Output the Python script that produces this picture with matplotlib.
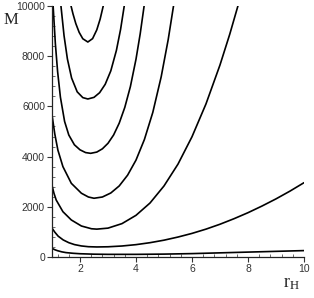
import matplotlib
matplotlib.use("Agg")
import matplotlib.pyplot as plt
from matplotlib.ticker import MultipleLocator, FixedLocator

# Data (r_H, M), one list pair per curve
c_r = [1.68, 1.75, 1.85, 1.97, 2.10, 2.28, 2.45, 2.60, 2.72, 2.83]
c_m = [10000, 9685, 9300, 8950, 8695, 8565, 8700, 9050, 9480, 10000]

b_r = [1.32, 1.43, 1.55, 1.70, 1.90, 2.10, 2.28, 2.50, 2.70, 2.90, 3.10, 3.30, 3.45, 3.58]
b_m = [10000, 8820, 7890, 7130, 6580, 6350, 6295, 6360, 6545, 6880, 7415, 8230, 9070, 10000]

a_r = [1.04, 1.12, 1.20, 1.30, 1.45, 1.60, 1.80, 2.00, 2.20, 2.38, 2.60, 2.80, 3.00,
       3.20, 3.40, 3.60, 3.80, 4.00, 4.15, 4.29]
a_m = [10000, 8500, 7390, 6370, 5400, 4860, 4470, 4270, 4160, 4130, 4180, 4310, 4530,
       4860, 5330, 5960, 6790, 7880, 8890, 10000]

d_r = [1.00, 1.10, 1.21, 1.39, 1.69, 2.05, 2.30, 2.50, 2.80, 3.10, 3.40, 3.70, 4.00,
       4.30, 4.60, 4.90, 5.15, 5.34]
d_m = [5660, 4900, 4260, 3600, 2935, 2540, 2390, 2340, 2390, 2550, 2830, 3260, 3860,
       4680, 5760, 7180, 8660, 10000]

e_r = [1.00, 1.07, 1.15, 1.39, 1.69, 2.05, 2.41, 2.60, 3.00, 3.50, 4.00, 4.50, 5.00,
       5.50, 6.00, 6.50, 7.00, 7.35, 7.64]
e_m = [2850, 2540, 2270, 1805, 1475, 1235, 1125, 1110, 1150, 1330, 1660, 2150, 2830,
       3700, 4790, 6100, 7650, 8880, 10000]

f_r = [1.00, 1.10, 1.22, 1.40, 1.60, 1.80, 2.05, 2.30, 2.60, 3.00, 3.50, 4.00, 4.50,
       5.00, 5.50, 6.00, 6.50, 7.00, 7.50, 8.00, 8.50, 9.00, 9.50, 10.0]
f_m = [1150, 990, 830, 680, 570, 495, 440, 410, 400, 407, 438, 492, 570,
       670, 795, 940, 1110, 1305, 1525, 1765, 2030, 2315, 2625, 2960]

g_r = [1.00, 1.10, 1.20, 1.35, 1.50, 1.75, 2.00, 2.50, 3.00, 4.00, 5.00, 6.00, 7.00,
       8.00, 9.00, 10.0]
g_m = [345, 290, 250, 205, 175, 148, 130, 112, 105, 105, 115, 135, 165, 195, 225, 255]

curves = [(c_r, c_m), (b_r, b_m), (a_r, a_m), (d_r, d_m), (e_r, e_m), (f_r, f_m), (g_r, g_m)]

x_ticks = [2, 4, 6, 8, 10]
y_ticks = [0, 2000, 4000, 6000, 8000, 10000]

fig = plt.figure(figsize=(3.14, 2.98), dpi=100)
ax = fig.add_axes([0.1656, 0.1376, 0.8025, 0.8423])

for r, m in curves:
    ax.plot(r, m, color="black", lw=1.2, solid_joinstyle="round", solid_capstyle="round")

ax.set_xlim(1, 10)
ax.set_ylim(0, 10000)
ax.spines["top"].set_visible(False)
ax.spines["right"].set_visible(False)
for s in ("left", "bottom"):
    ax.spines[s].set_linewidth(0.9)
    ax.spines[s].set_color("#222222")

ax.xaxis.set_major_locator(FixedLocator(x_ticks))
ax.yaxis.set_major_locator(FixedLocator(y_ticks))
ax.xaxis.set_minor_locator(MultipleLocator(0.4))
ax.yaxis.set_minor_locator(MultipleLocator(400))
ax.tick_params(which="major", direction="out", length=3.5, width=0.8, color="#333333",
               labelsize=7.5, labelcolor="#333333", pad=1.5)
ax.tick_params(which="minor", direction="in", length=2, width=0.6, color="#555555")
for lab in ax.get_xticklabels() + ax.get_yticklabels():
    lab.set_family("Liberation Sans")

fig.text(11 / 314, 1 - 20 / 298, "M", family="Liberation Serif", fontsize=12,
         ha="center", va="center", color="#222222")
fig.text(291 / 314, 1 - 284 / 298, r"$\mathregular{r_H}$", family="Liberation Serif",
         fontsize=13, ha="center", va="center", color="#222222")

fig.savefig("out.png", dpi=100)
